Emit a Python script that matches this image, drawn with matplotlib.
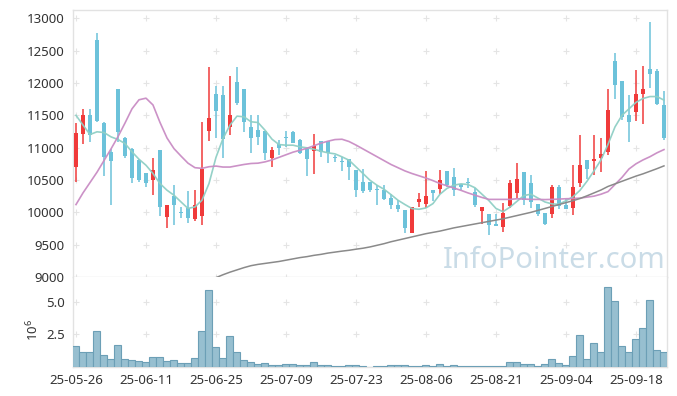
import numpy as np
import matplotlib.pyplot as plt

# daily candles, 25-05-26 .. 25-09-24 (trading days only)
opens = [10700, 11215, 11500, 12660, 11380, 10935, 11905, 11155, 10985, 10815,
         10605, 10500, 10960, 9930, 10250, 10000, 10070, 9890, 9945, 11260,
         11830, 11810, 11320, 12015, 11905, 11320, 11270, 11255, 10845, 11050,
         11160, 11240, 11115, 10985, 10950, 11100, 11100, 10845, 10785, 10820,
         10650, 10470, 10470, 10355, 10350, 10215, 10120, 10030, 9680, 10160,
         10125, 10340, 10365, 10635, 10540, 10435, 10465, 10315, 10020, 9970,
         9815, 9775, 10100, 10300, 10625, 10460, 10135, 9995, 9980, 10395,
         10120, 10068, 10460, 10806, 10796, 10842, 10935, 12339, 12029, 11503,
         11554, 11822, 12215, 12189, 11657]
highs = [11375, 11600, 11590, 12770, 11390, 10985, 11905, 11160, 10990, 10820,
         10605, 10840, 10960, 10120, 10430, 10085, 10325, 10340, 11390, 12240,
         11950, 11950, 12105, 12240, 11905, 11500, 11500, 11255, 11015, 11115,
         11260, 11265, 11140, 10990, 11205, 11100, 11100, 10885, 10860, 10825,
         10650, 10665, 10470, 10420, 10430, 10290, 10185, 10030, 10085, 10300,
         10635, 10345, 10650, 10640, 10690, 10440, 10530, 10380, 10085, 9970,
         9970, 10150, 10505, 10755, 10625, 10575, 10135, 9995, 10420, 10420,
         10200, 10739, 11203, 10806, 11203, 11152, 11900, 12468, 12030, 11812,
         12200, 12266, 12937, 12215, 11874]
lows = [10470, 11050, 11090, 11390, 10560, 10110, 11090, 10840, 10460, 10470,
        10395, 10275, 9945, 9760, 9810, 9905, 9840, 9860, 9810, 11100,
        11155, 10845, 11200, 11655, 11245, 10910, 11040, 10805, 10705, 10885,
        11015, 11070, 10905, 10560, 10600, 10860, 10755, 10780, 10640, 10505,
        10240, 10300, 10315, 10120, 10195, 10045, 10005, 9680, 9680, 10085,
        10060, 10170, 10290, 10395, 10255, 10350, 10380, 10085, 9825, 9655,
        9790, 9695, 10060, 10225, 10120, 10060, 9945, 9800, 9905, 10058,
        10055, 9965, 10393, 10522, 10574, 10625, 10883, 11745, 11425, 11090,
        11410, 11358, 11915, 11657, 11116]
closes = [11230, 11500, 11195, 11410, 10860, 10795, 11235, 10875, 10530, 10495,
          10460, 10650, 10085, 10120, 10110, 9995, 9915, 10110, 10675, 11465,
          11570, 11140, 11500, 11685, 11400, 11150, 11165, 10910, 10960, 11000,
          11150, 11075, 10910, 10830, 11025, 10935, 10910, 10840, 10780, 10705,
          10340, 10325, 10340, 10350, 10200, 10110, 10045, 9760, 10085, 10200,
          10245, 10300, 10495, 10430, 10340, 10395, 10455, 10110, 10085, 9800,
          9790, 9995, 10460, 10510, 10187, 10160, 9980, 9815, 10395, 10094,
          10058, 10393, 10728, 10667, 10820, 10909, 11580, 11967, 11477, 11389,
          11822, 11900, 12137, 11673, 11152]

# volume in millions of shares
volumes = [1.61, 1.15, 1.15, 2.76, 0.92, 0.61, 1.68, 0.61, 0.54, 0.46,
           0.38, 0.74, 0.74, 0.48, 0.54, 0.31, 0.31, 0.69, 2.76, 5.89,
           1.53, 0.69, 2.37, 1.15, 0.54, 0.38, 0.23, 0.31, 0.15, 0.15,
           0.23, 0.23, 0.15, 0.15, 0.38, 0.15, 0.15, 0.08, 0.05, 0.15,
           0.15, 0.05, 0.02, 0.05, 0.05, 0.13, 0.13, 0.13, 0.05, 0.05,
           0.13, 0.05, 0.20, 0.05, 0.13, 0.05, 0.05, 0.05, 0.05, 0.05,
           0.05, 0.05, 0.36, 0.36, 0.20, 0.20, 0.05, 0.20, 0.59, 0.28,
           0.13, 0.88, 2.48, 0.59, 1.80, 1.18, 6.15, 5.08, 1.58, 1.12,
           2.13, 3.02, 5.16, 1.28, 1.18]

# moving averages
ma5 = [11500, 11350, 11203, 11245, 11234, 11167, 11126, 11064, 10935, 10821,
       10728, 10600, 10445, 10342, 10264, 10161, 10060, 10084, 10187, 10445,
       10850, 11141, 11348, 11487, 11477, 11400, 11389, 11270, 11131, 11048,
       11038, 11038, 11013, 10997, 10976, 10945, 10920, 10904, 10858, 10806,
       10703, 10600, 10496, 10419, 10357, 10274, 10187, 10120, 10058, 10047,
       10068, 10135, 10280, 10370, 10420, 10440, 10430, 10380, 10280, 10180,
       10060, 10010, 10080, 10170, 10260, 10280, 10220, 10160, 10130, 10125,
       10180, 10240, 10340, 10480, 10640, 10810, 11050, 11320, 11500, 11600,
       11700, 11760, 11790, 11790, 11735]
ma20 = [10120, 10300, 10460, 10620, 10800, 10980, 11170, 11380, 11600, 11740,
        11765, 11660, 11390, 11150, 10985, 10870, 10760, 10690, 10680, 10705,
        10715, 10700, 10700, 10720, 10740, 10755, 10760, 10780, 10810, 10850,
        10890, 10930, 10960, 10990, 11030, 11070, 11100, 11125, 11130, 11095,
        11040, 10980, 10920, 10860, 10800, 10740, 10690, 10640, 10600, 10565,
        10530, 10490, 10445, 10410, 10375, 10340, 10300, 10265, 10230, 10200,
        10200, 10200, 10200, 10210, 10205, 10200, 10200, 10197, 10200, 10205,
        10210, 10213, 10220, 10235, 10250, 10280, 10320, 10430, 10540, 10670,
        10750, 10810, 10860, 10920, 10970]
ma60 = [np.nan] * 19 + [
        8920, 8990, 9035, 9075, 9110, 9145, 9175, 9195, 9210, 9225,
        9240, 9260, 9280, 9300, 9315, 9335, 9350, 9370, 9385, 9400,
        9413, 9430, 9445, 9465, 9490, 9515, 9545, 9570, 9595, 9620,
        9645, 9670, 9690, 9710, 9735, 9760, 9780, 9800, 9820, 9840,
        9860, 9880, 9900, 9925, 9950, 9975, 10000, 10030, 10060, 10090,
        10120, 10150, 10180, 10213, 10255, 10300, 10345, 10400, 10440, 10480,
        10520, 10560, 10595, 10635, 10675, 10718]

date_ticks = ['25-05-26', '25-06-11', '25-06-25', '25-07-09', '25-07-23',
              '25-08-06', '25-08-21', '25-09-04', '25-09-18']
price_ticks = [9000, 9500, 10000, 10500, 11000, 11500, 12000, 12500, 13000]
vol_ticks = [2.5, 5.0]

UP_COLOR = '#f03a3a'
DOWN_COLOR = '#6cc2da'
GRID_COLOR = '#e4e4e4'
SPINE_COLOR = '#e2e2e2'
TEXT_COLOR = '#333333'

plt.rcParams['font.family'] = ['Noto Sans', 'DejaVu Sans']
plt.rcParams['mathtext.default'] = 'regular'

fig = plt.figure(figsize=(6.77, 3.96), dpi=100)
ax = fig.add_axes([0.1078, 0.3005, 0.8774, 0.6742])
ax_vol = fig.add_axes([0.1078, 0.0732, 0.8774, 0.2273], sharex=ax)

x = np.arange(len(closes))
o = np.array(opens)
c = np.array(closes)
up = c >= o
colors = np.where(up, UP_COLOR, DOWN_COLOR)

# watermark behind everything
ax.text(0.623, 0.035, 'InfoPointer.com', transform=ax.transAxes,
        fontsize=21, color='#cadce7', ha='left', va='baseline', zorder=0)

# candles
ax.vlines(x, lows, highs, colors=colors, linewidth=1.1, zorder=3)
body_h = np.maximum(np.abs(c - o), 10)
ax.bar(x, body_h, bottom=np.minimum(o, c), width=0.62, color=colors,
       linewidth=0, zorder=4)

# moving averages
ax.plot(x, ma5, color='#8fcfc5', linewidth=1.2, alpha=0.95, zorder=5)
ax.plot(x, ma20, color='#c98cc4', linewidth=1.2, alpha=0.95, zorder=5)
ax.plot(x, ma60, color='#8a8a8a', linewidth=1.1, zorder=5)

# volume
ax_vol.bar(x, volumes, width=1.0, color='#97bfd0', edgecolor='#6c9fb6',
           linewidth=0.8, zorder=3)

xticks = list(range(0, len(closes), 10))
ax.set_xlim(-0.43, len(closes) - 1 + 0.43)
ax.set_ylim(9000, 13128)
ax_vol.set_ylim(0, 6.89)

# grid drawn as small crosses at tick intersections
gx, gy = np.meshgrid(xticks, price_ticks)
ax.scatter(gx.ravel(), gy.ravel(), marker='+', s=14, color=GRID_COLOR,
           linewidths=0.8, zorder=1, clip_on=False)
gx, gy = np.meshgrid(xticks, vol_ticks)
ax_vol.scatter(gx.ravel(), gy.ravel(), marker='+', s=14, color=GRID_COLOR,
               linewidths=0.8, zorder=1, clip_on=False)

ax.set_yticks(price_ticks)
ax.set_yticklabels([str(p) for p in price_ticks])
ax.tick_params(axis='x', labelbottom=False, length=0)
ax.tick_params(axis='y', length=0, pad=6, labelsize=9.5, labelcolor=TEXT_COLOR)

ax_vol.set_xticks(xticks)
ax_vol.set_xticklabels(date_ticks)
ax_vol.set_yticks(vol_ticks)
ax_vol.set_yticklabels(['2.5', '5.0'])
ax_vol.tick_params(axis='both', length=0, labelsize=9.5, labelcolor=TEXT_COLOR)
ax_vol.tick_params(axis='x', pad=5)
ax_vol.tick_params(axis='y', pad=6)

for a in (ax, ax_vol):
    for s in a.spines.values():
        s.set_color(SPINE_COLOR)
        s.set_linewidth(1.0)
ax_vol.spines['top'].set_visible(False)

fig.text(33 / 677, 1 - 330 / 396, r'$10^6$', rotation=90, fontsize=9.5,
         color=TEXT_COLOR, ha='center', va='center')

fig.savefig('out.png', dpi=100)
